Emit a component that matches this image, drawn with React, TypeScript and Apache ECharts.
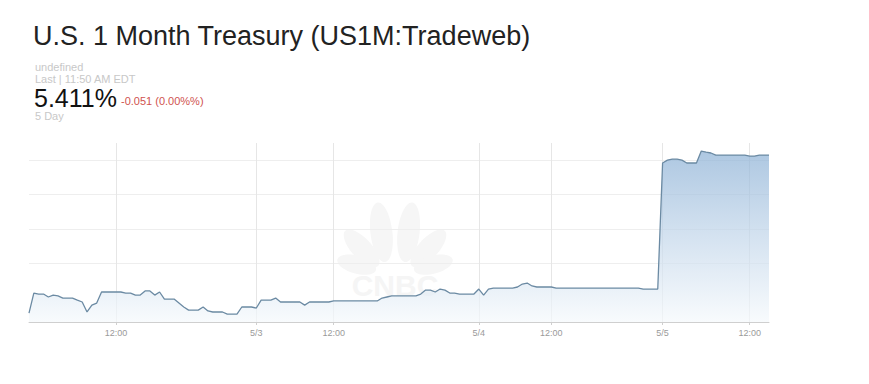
import React, { useEffect, useRef } from 'react';
import * as echarts from 'echarts';

// Trading sessions shown on the 5-day chart (20-minute samples)
const sessions = [
  { date: '5/2', start: '06:00', end: '21:20' },
  { date: '5/3', start: '06:40', end: '21:40' },
  { date: '5/4', start: '07:00', end: '19:20' },
  { date: '5/5', start: '06:00', end: '13:20' },
];
const stepMinutes = 20;

// Yield (%) at each sample
const yields = [
  5.3113, 5.3229, 5.3223, 5.3223, 5.3206, 5.3217, 5.3212, 5.3200, 5.3200, 5.3200,
  5.3188, 5.3177, 5.3119, 5.3159, 5.3171, 5.3235, 5.3235, 5.3235, 5.3235, 5.3235,
  5.3229, 5.3229, 5.3217, 5.3217, 5.3241, 5.3241, 5.3217, 5.3235, 5.3194, 5.3194,
  5.3194, 5.3171, 5.3148, 5.3130, 5.3130, 5.3130, 5.3148, 5.3125, 5.3119, 5.3119,
  5.3119, 5.3107, 5.3107, 5.3107, 5.3148, 5.3148, 5.3148, 5.3142, 5.3188, 5.3188,
  5.3188, 5.3200, 5.3177, 5.3177, 5.3177, 5.3177, 5.3177, 5.3159, 5.3177, 5.3177,
  5.3177, 5.3177, 5.3177, 5.3183, 5.3183, 5.3183, 5.3183, 5.3183, 5.3183, 5.3183,
  5.3183, 5.3183, 5.3183, 5.3200, 5.3206, 5.3212, 5.3212, 5.3212, 5.3212, 5.3212,
  5.3212, 5.3223, 5.3246, 5.3246, 5.3235, 5.3252, 5.3246, 5.3229, 5.3229, 5.3223,
  5.3223, 5.3223, 5.3223, 5.3252, 5.3217, 5.3252, 5.3258, 5.3258, 5.3258, 5.3258,
  5.3258, 5.3264, 5.3281, 5.3287, 5.3270, 5.3264, 5.3264, 5.3264, 5.3264, 5.3258,
  5.3258, 5.3258, 5.3258, 5.3258, 5.3258, 5.3258, 5.3258, 5.3258, 5.3258, 5.3258,
  5.3258, 5.3258, 5.3258, 5.3258, 5.3258, 5.3258, 5.3258, 5.3252, 5.3252, 5.3252,
  5.3252, 5.3983, 5.4000, 5.4006, 5.4006, 5.4000, 5.3983, 5.3983, 5.3983, 5.4052,
  5.4046, 5.4041, 5.4029, 5.4029, 5.4029, 5.4029, 5.4029, 5.4029, 5.4029, 5.4023,
  5.4023, 5.4029, 5.4029, 5.4029,
];

// Categories that carry a tick label, and the text shown there
const xTickCats = ['5/2 12:00', '5/3 06:40', '5/3 12:00', '5/4 07:00', '5/4 12:00', '5/5 06:00', '5/5 12:00'];
const xTickText = ['12:00', '5/3', '12:00', '5/4', '12:00', '5/5', '12:00'];

// y-axis window
const yMin = 5.3061;
const yMax = 5.4099;

const titleText = 'U.S. 1 Month Treasury (US1M:Tradeweb)';
const quoteLines = ['undefined', 'Last | 11:50 AM EDT'];
const lastPrice = '5.411%';
const changeText = '-0.051 (0.00%%)';
const rangeText = '5 Day';

function toMin(t: string) {
  const [h, m] = t.split(':').map(Number);
  return h * 60 + m;
}
function fmt(m: number) {
  const h = Math.floor(m / 60);
  const mm = m % 60;
  return String(h).padStart(2, '0') + ':' + String(mm).padStart(2, '0');
}
function buildCategories() {
  const out: string[] = [];
  sessions.forEach((s) => {
    for (let m = toMin(s.start); m <= toMin(s.end); m += stepMinutes) {
      out.push(s.date + ' ' + fmt(m));
    }
  });
  return out;
}

const FONT = '"Liberation Sans", Arial, Helvetica, sans-serif';

export default function App() {
  const ref = useRef<HTMLDivElement>(null);
  useEffect(() => {
    if (!ref.current) return;
    const chart = echarts.init(ref.current, undefined, { renderer: 'svg' });
    const categories = buildCategories();
    const isTick = (_i: number, v: string) => xTickCats.indexOf(v) >= 0;

    const feathers = [
      { x: 385, y: 262, rx: 11, ry: 30, rot: 0.12 },
      { x: 405, y: 262, rx: 11, ry: 30, rot: -0.12 },
      { x: 378, y: 266, rx: 10, ry: 24, rot: 0.75 },
      { x: 412, y: 266, rx: 10, ry: 24, rot: -0.75 },
      { x: 376, y: 270, rx: 9, ry: 20, rot: 1.3 },
      { x: 414, y: 270, rx: 9, ry: 20, rot: -1.3 },
    ];

    const small = (text: string, x: number, y: number, fill: string) => ({
      type: 'text',
      x,
      y,
      style: { text, fontSize: 11, lineHeight: 11, fontFamily: FONT, fill, verticalAlign: 'middle' },
    });

    chart.setOption({
      animation: false,
      backgroundColor: '#ffffff',
      grid: { left: 29, right: 100, top: 143, bottom: 62, containLabel: false },
      xAxis: {
        type: 'category',
        data: categories,
        boundaryGap: false,
        axisLine: { show: true, lineStyle: { color: '#cfcfcf', width: 1 } },
        axisTick: { show: true, interval: isTick, length: 3, lineStyle: { color: '#cfcfcf' } },
        axisLabel: {
          show: true,
          interval: isTick,
          color: '#9a9a9a',
          fontSize: 9,
          fontFamily: FONT,
          margin: 6,
          formatter: (v: string) => {
            const k = xTickCats.indexOf(v);
            return k >= 0 ? xTickText[k] : '';
          },
        },
        splitLine: { show: true, interval: isTick, lineStyle: { color: '#e6e6e6', width: 1 } },
      },
      yAxis: {
        type: 'value',
        min: yMin,
        max: yMax,
        scale: true,
        axisLine: { show: false },
        axisTick: { show: false },
        axisLabel: { show: false },
        splitLine: {
          show: true,
          showMinLine: false,
          showMaxLine: false,
          lineStyle: { color: ['rgba(0,0,0,0)', '#eeeeee', '#eeeeee', '#eeeeee', '#eeeeee'], width: 1 },
        },
      },
      graphic: [
        ...feathers.map((f) => ({
          type: 'ellipse',
          x: f.x,
          y: f.y,
          rotation: f.rot,
          z: -10,
          silent: true,
          shape: { cx: 0, cy: -f.ry, rx: f.rx, ry: f.ry },
          style: { fill: '#f6f6f6' },
        })),
        {
          type: 'text',
          x: 395,
          y: 285,
          z: -10,
          silent: true,
          style: { text: 'CNBC', font: 'bold 30px ' + FONT, fill: '#f5f5f5', align: 'center', verticalAlign: 'middle' },
        },
        {
          type: 'text',
          x: 33,
          y: 35.5,
          style: { text: titleText, fontSize: 27, lineHeight: 27, fontFamily: FONT, fill: '#222222', verticalAlign: 'middle' },
        },
        small(quoteLines[0], 35, 67, '#c8c8c8'),
        small(quoteLines[1], 35, 79, '#c8c8c8'),
        {
          type: 'text',
          x: 34,
          y: 97.5,
          style: { text: lastPrice, fontSize: 25, lineHeight: 22, fontFamily: FONT, fill: '#111111', verticalAlign: 'middle' },
        },
        small(changeText, 121, 101, '#d0534f'),
        small(rangeText, 35, 116, '#c8c8c8'),
      ],
      series: [
        {
          type: 'line',
          data: yields,
          showSymbol: false,
          symbol: 'none',
          lineStyle: { color: '#6b8aa3', width: 1.3 },
          areaStyle: {
            color: new echarts.graphic.LinearGradient(0, 0, 0, 1, [
              { offset: 0, color: '#8bb0d5' },
              { offset: 0.5, color: '#c2d6ea' },
              { offset: 1, color: '#f5f9fc' },
            ]),
          },
        },
      ],
    });
    return () => chart.dispose();
  }, []);
  return <div ref={ref} style={{ position: 'fixed', left: 0, top: 0, width: 869, height: 384 }} />;
}
